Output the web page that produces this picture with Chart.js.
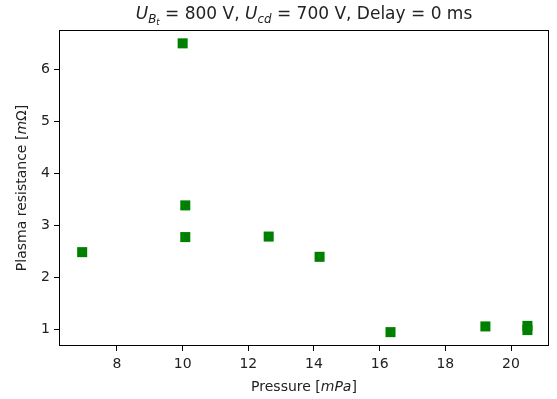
<!DOCTYPE html>
<html>
<head>
<meta charset="utf-8">
<script src="https://cdn.jsdelivr.net/npm/chart.js@4"></script>
<style>
html,body{margin:0;padding:0;background:#fff;}
#wrap{width:557px;height:399px;position:relative;}
</style>
</head>
<body>
<div id="wrap"><canvas id="c" width="557" height="399"></canvas></div>
<script>
// Data
const pressure   = [6.94, 10.0, 10.08, 10.08, 12.62, 14.17, 16.33, 19.22, 20.5, 20.5];
const resistance = [2.48, 6.50, 3.38, 2.77, 2.78, 2.39, 0.94, 1.05, 1.06, 0.98];
const xTicks = [8, 10, 12, 14, 16, 18, 20];
const yTicks = [1, 2, 3, 4, 5, 6];
const xRange = [6.234, 21.157];
const yRange = [0.673, 6.757];

const FONT = '"DejaVu Sans", sans-serif';
const TXT = '#222';

function drawRich(ctx, segs, cx, cy, size, rotate) {
  ctx.save();
  ctx.translate(cx, cy);
  if (rotate) ctx.rotate(-Math.PI / 2);
  ctx.textBaseline = 'alphabetic';
  ctx.textAlign = 'left';
  const sizes = [size, size * 0.7, size * 0.5];
  const offs = [0, size * 0.2, size * 0.33];
  let total = 0;
  const w = segs.map(s => {
    ctx.font = (s[1] ? 'italic ' : '') + sizes[s[2]] + 'px ' + FONT;
    const m = ctx.measureText(s[0]).width;
    total += m;
    return m;
  });
  let x = -total / 2;
  ctx.fillStyle = TXT;
  segs.forEach((s, i) => {
    ctx.font = (s[1] ? 'italic ' : '') + sizes[s[2]] + 'px ' + FONT;
    ctx.fillText(s[0], x, size * 0.36 + offs[s[2]]);
    x += w[i];
  });
  ctx.restore();
}

const textPlugin = {
  id: 'richText',
  afterDraw(chart) {
    const ctx = chart.ctx;
    const a = chart.chartArea;
    ctx.save();
    ctx.strokeStyle = '#000';
    ctx.lineWidth = 1;
    ctx.strokeRect(Math.round(a.left) + 0.5, Math.round(a.top) + 0.5,
                   Math.round(a.right - a.left) - 1, Math.round(a.bottom - a.top) - 1);
    ctx.restore();
    const cx = (a.left + a.right) / 2;
    drawRich(ctx, [
      ['U', true, 0], ['B', true, 1], ['t', true, 2], [' = 800 V, ', false, 0],
      ['U', true, 0], ['cd', true, 1], [' = 700 V, Delay = 0 ms', false, 0]
    ], cx, 13, 17, false);
    drawRich(ctx, [['Pressure [', false, 0], ['mPa', true, 0], [']', false, 0]], cx, 386, 14, false);
    drawRich(ctx, [['Plasma resistance [', false, 0], ['m', true, 0], ['Ω]', false, 0]],
             21, (a.top + a.bottom) / 2, 14, true);
  }
};

new Chart(document.getElementById('c'), {
  type: 'scatter',
  data: {
    datasets: [{
      data: pressure.map((p, i) => ({x: p, y: resistance[i]})),
      backgroundColor: '#008000',
      borderColor: '#008000',
      borderWidth: 0,
      pointStyle: 'rect',
      pointRadius: 7.1,
      pointHoverRadius: 7.1
    }]
  },
  options: {
    responsive: false,
    animation: false,
    events: [],
    layout: {padding: {left: 0, top: 30, right: 8, bottom: 0}},
    plugins: {legend: {display: false}, tooltip: {enabled: false}, title: {display: false}},
    scales: {
      x: {
        type: 'linear',
        min: xRange[0], max: xRange[1],
        afterFit(s) { s.height = 53; },
        afterBuildTicks(s) { s.ticks = xTicks.map(v => ({value: v})); },
        ticks: {font: {family: FONT, size: 14}, color: TXT, padding: 5, maxRotation: 0},
        grid: {drawOnChartArea: false, drawTicks: true, tickLength: 5, color: '#000'},
        border: {display: false}
      },
      y: {
        type: 'linear',
        min: yRange[0], max: yRange[1],
        afterFit(s) { s.width = 59; },
        afterBuildTicks(s) { s.ticks = yTicks.map(v => ({value: v})); },
        ticks: {font: {family: FONT, size: 14}, color: TXT, padding: 4},
        grid: {drawOnChartArea: false, drawTicks: true, tickLength: 5, color: '#000'},
        border: {display: false}
      }
    }
  },
  plugins: [textPlugin]
});
</script>
</body>
</html>
